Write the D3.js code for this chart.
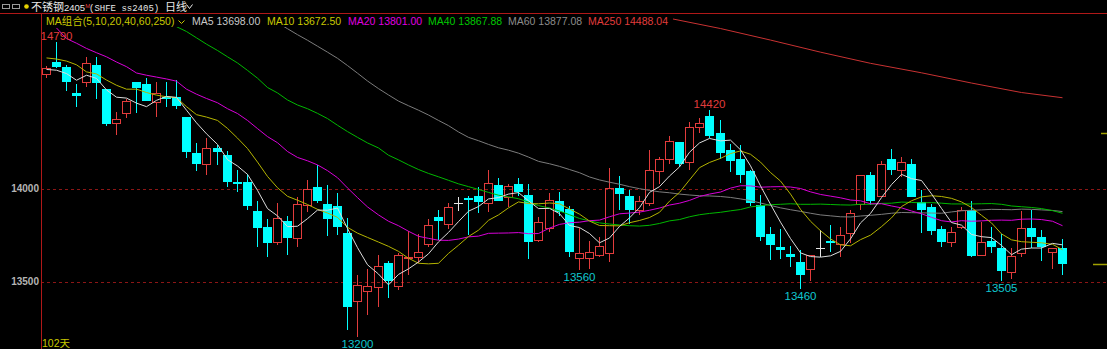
<!DOCTYPE html>
<html>
<head>
<meta charset="utf-8">
<script src="https://cdn.jsdelivr.net/npm/d3@7/dist/d3.min.js"></script>
<style>
  html, body { margin: 0; padding: 0; background: #000; overflow: hidden; }
  svg { display: block; }
</style>
</head>
<body>
<svg id="chart" width="1107" height="349"></svg>
<script>
// Daily candles for 不锈钢2405, oldest first (102 days)
const opens = [14615,14680,14655,14515,14575,14665,14535,14350,14405,14570,14560,14465,14490,14490,14385,14190,14130,14220,14180,14035,
  14035,13880,13795,13710,13825,13735,13910,14010,13915,13905,13760,13395,13450,13470,13600,13475,13625,13630,13700,13845,
  13810,13920,13950,13960,13920,14020,13955,14025,13965,13725,13790,13935,13890,13625,13625,13645,13655,14005,13960,13885,
  13920,14095,14160,14250,14145,14330,14390,14300,14205,14160,14095,13910,13755,13685,13650,13605,13565,13680,13720,13700,
  13760,13915,14070,13960,14160,14100,14130,13925,13900,13780,13715,13795,13885,13640,13720,13680,13550,13655,13785,13740,
  13660,13680];
const highs = [14660,14790,14665,14560,14705,14705,14535,14410,14480,14570,14595,14570,14570,14585,14385,14245,14270,14235,14200,14100,
  14080,13935,13835,13920,13850,13955,14045,14125,14020,13975,13840,13535,13565,13640,13610,13655,13770,13755,13835,13885,
  13920,13955,13960,14010,14100,14055,14025,14055,14025,13845,13975,13980,13905,13790,13720,13740,14110,14065,13990,13960,
  14205,14170,14280,14250,14355,14380,14420,14370,14240,14235,14100,13965,13795,13780,13690,13670,13640,13775,13805,13795,
  13885,14070,14090,14150,14210,14170,14160,13990,13915,13800,13795,13900,13935,13820,13795,13755,13680,13880,13885,13775,
  13680,13730];
const lows = [14595,14650,14525,14440,14545,14480,14335,14285,14380,14405,14470,14385,14440,14430,14165,14095,14070,14125,14010,13980,
  13885,13685,13630,13695,13640,13685,13875,13920,13745,13750,13240,13200,13320,13365,13410,13455,13535,13600,13685,13725,
  13780,13880,13750,13870,13875,13935,13900,13960,13620,13715,13765,13850,13630,13560,13565,13630,13605,13885,13810,13860,
  13905,14025,14130,14115,14100,14300,14270,14160,14090,14030,13905,13720,13615,13620,13580,13460,13505,13630,13660,13630,
  13705,13885,13910,13955,14075,14060,13955,13760,13750,13685,13685,13780,13630,13640,13655,13505,13515,13630,13680,13610,
  13565,13535];
const closes = [14650,14655,14570,14495,14675,14565,14345,14375,14470,14540,14470,14515,14480,14445,14195,14130,14220,14195,14035,14025,
  13905,13790,13705,13840,13735,13915,13995,13935,13835,13795,13365,13480,13475,13585,13505,13645,13630,13660,13805,13825,
  13900,13920,13940,13930,14030,13935,14015,13980,13710,13820,13940,13875,13660,13655,13660,13690,14005,13970,13885,13935,
  14100,14160,14255,14130,14330,14350,14280,14190,14150,14070,13920,13740,13695,13670,13630,13535,13640,13680,13705,13750,
  13870,14070,13935,14130,14100,14145,13955,13885,13770,13710,13765,13885,13635,13710,13685,13555,13635,13785,13740,13685,
  13680,13595];

// Moving averages as drawn (null where the line is hidden under the legend)
const ma5 = [14640,14636,14618,14582,14609,14592,14530,14491,14486,14459,14440,14474,14495,14490,14421,14353,14294,14237,14155,14121,
  14076,13990,13892,13853,13795,13797,13838,13884,13883,13895,13785,13682,13590,13540,13482,13538,13568,13605,13649,13713,
  13764,13822,13878,13903,13944,13951,13970,13978,13934,13892,13893,13865,13801,13790,13758,13708,13734,13796,13842,13897,
  13979,14010,14067,14116,14195,14245,14269,14256,14260,14208,14122,14014,13915,13819,13731,13654,13634,13631,13638,13662,
  13729,13815,13866,13951,14021,14076,14053,14043,13971,13893,13817,13803,13753,13741,13736,13694,13644,13674,13680,13680,
  13705,13697];
const ma10 = [14702,14696,14685,14665,14627,14616,14583,14555,14534,14534,14516,14502,14493,14488,14440,14397,14384,14366,14323,14271,
  14215,14142,14065,14004,13958,13937,13914,13888,13868,13845,13791,13760,13737,13712,13689,13662,13625,13598,13595,13598,
  13651,13695,13742,13776,13829,13858,13896,13928,13919,13918,13922,13918,13890,13862,13825,13801,13800,13799,13816,13828,
  13844,13872,13932,13979,14046,14112,14140,14162,14188,14202,14184,14142,14086,14040,13970,13888,13824,13773,13729,13697,
  13692,13725,13749,13795,13842,13903,13934,13955,13961,13957,13947,13928,13898,13856,13815,13756,13724,13714,13711,13708,
  13700,13671];
const ma20 = [null,14863,14806,14781,14753,14730,14708,14680,14655,14621,14609,14599,14589,14577,14534,14507,14484,14461,14429,14403,
  14366,14322,14279,14246,14199,14167,14149,14127,14096,14058,14003,13951,13901,13858,13824,13800,13770,13743,13732,13722,
  13721,13728,13740,13744,13759,13760,13761,13763,13757,13758,13787,13807,13816,13819,13827,13830,13848,13864,13868,13873,
  13883,13895,13911,13921,13936,13957,13970,13981,14002,14015,14014,14007,14009,14010,14008,14000,13982,13968,13959,13950,
  13938,13934,13918,13918,13906,13896,13879,13864,13845,13827,13820,13827,13824,13826,13829,13830,13829,13835,13836,13833,
  13824,13800];
const ma40 = [null,null,null,null,null,null,null,null,null,null,null,null,null,14870,14844,14810,14776,14742,14708,14675,
  14635,14593,14543,14514,14476,14449,14429,14404,14376,14340,14306,14275,14245,14218,14179,14154,14127,14102,14081,14063,
  14044,14025,14010,13995,13979,13964,13955,13945,13927,13908,13895,13879,13859,13839,13826,13815,13809,13804,13800,13798,
  13802,13812,13826,13833,13848,13859,13866,13872,13880,13887,13901,13907,13913,13915,13918,13915,13915,13916,13914,13912,
  13911,13915,13915,13920,13921,13927,13925,13923,13924,13921,13917,13917,13917,13918,13919,13915,13906,13902,13898,13892,
  13881,13867];
const ma60 = [null,null,null,null,null,null,null,null,null,null,null,null,null,null,null,null,null,null,null,null,
  null,null,null,14891,14859,14827,14797,14765,14733,14700,14661,14620,14578,14537,14503,14470,14445,14421,14395,14366,
  14338,14304,14275,14257,14237,14219,14206,14190,14169,14146,14133,14119,14102,14085,14062,14046,14034,14023,14010,13999,
  13990,13982,13977,13970,13965,13961,13960,13957,13952,13944,13935,13922,13909,13896,13886,13877,13867,13858,13853,13848,
  13847,13852,13856,13861,13867,13871,13870,13869,13868,13867,13874,13880,13883,13885,13888,13887,13886,13889,13888,13885,
  13882,13876];
const ma250Day = [63, 68, 73, 78, 83, 88, 93, 98, 102];
const ma250 = [14915, 14860, 14798, 14733, 14673, 14622, 14567, 14516, 14488];

const maNames = ['MA5', 'MA10', 'MA20', 'MA40', 'MA60', 'MA250'];
const maLast = [13698.00, 13672.50, 13801.00, 13867.88, 13877.08, 14488.04];

const yTicks = [14000, 13500];
const highMarks = [2, 67];         // days whose high gets a label
const lowMarks = [32, 54, 76, 96]; // days whose low gets a label
const sideLevels = [14300, 13595];

// ---- layout ----
const W = 1107, H = 349;
const plotLeft = 41, plotTop = 13;
const maColors = ['#dcdcdc', '#b4b400', '#d800d8', '#00b800', '#7c7c7c', '#c83232'];
const maTextColors = ['#c8c8c8', '#c8c800', '#e000e0', '#00c800', '#8c8c8c', '#e03c3c'];
const legendX = [192, 267, 348, 428, 508, 588];
const upColor = '#e23c3c', downColor = '#00ffff', flatColor = '#e6e6e6';
const font = '"Liberation Sans", "Noto Sans CJK SC", sans-serif';

const svg = d3.select('#chart').style('font-family', font);
svg.append('rect').attr('width', W).attr('height', H).attr('fill', '#000');

const days = d3.range(1, closes.length + 1);
const x = d3.scaleBand().domain(days).range([plotLeft, plotLeft + days.length * 10.06]);
const cx = d => Math.floor(x(d) + x.bandwidth() / 2);
const y = d3.scaleLinear().domain([13500, 14000]).range([281.5, 188.5]);

// grid + y labels
const yAxis = d3.axisLeft(y)
  .tickValues(yTicks)
  .tickSizeInner(-(W - plotLeft))
  .tickSizeOuter(0)
  .tickPadding(2)
  .tickFormat(d3.format('d'));
const gy = svg.append('g').attr('transform', `translate(${plotLeft},0)`).call(yAxis);
gy.select('.domain').remove();
gy.selectAll('.tick line')
  .attr('stroke', '#8c1616')
  .attr('stroke-dasharray', '3,3')
  .attr('shape-rendering', 'crispEdges');
gy.selectAll('.tick text')
  .attr('fill', '#b4b4b4')
  .style('font-size', '10px')
  .style('font-weight', 'bold')
  .style('font-family', font);

// candles
const candles = svg.append('g').attr('shape-rendering', 'crispEdges');
days.forEach((d, k) => {
  const o = opens[k], c = closes[k], h = highs[k], l = lows[k];
  const xc = cx(d);
  const yTop = Math.round(y(Math.max(o, c)));
  const yBot = Math.round(y(Math.min(o, c)));
  const yH = Math.round(y(h)), yL = Math.round(y(l));
  const g = candles.append('g');
  if (c > o) {
    g.append('line').attr('x1', xc + 0.5).attr('x2', xc + 0.5).attr('y1', yH).attr('y2', yTop).attr('stroke', upColor);
    g.append('line').attr('x1', xc + 0.5).attr('x2', xc + 0.5).attr('y1', yBot + 1).attr('y2', yL).attr('stroke', upColor);
    g.append('rect')
      .attr('x', xc - 3.5).attr('y', yTop + 0.5)
      .attr('width', 8).attr('height', Math.max(1, yBot - yTop))
      .attr('fill', 'none').attr('stroke', upColor);
  } else if (c < o) {
    g.append('line').attr('x1', xc + 0.5).attr('x2', xc + 0.5).attr('y1', yH).attr('y2', yL).attr('stroke', downColor);
    g.append('rect')
      .attr('x', xc - 4).attr('y', yTop)
      .attr('width', 9).attr('height', Math.max(1, yBot - yTop))
      .attr('fill', downColor);
  } else {
    g.append('line').attr('x1', xc + 0.5).attr('x2', xc + 0.5).attr('y1', yH).attr('y2', yL).attr('stroke', flatColor);
    g.append('line').attr('x1', xc - 4).attr('x2', xc + 5).attr('y1', yTop + 0.5).attr('y2', yTop + 0.5).attr('stroke', flatColor);
  }
});

// moving average lines, clipped to the plot
svg.append('clipPath').attr('id', 'plotClip')
  .append('rect').attr('x', plotLeft + 1).attr('y', plotTop + 1).attr('width', W - plotLeft - 1).attr('height', H - plotTop - 1);
const lines = svg.append('g').attr('clip-path', 'url(#plotClip)');
const lineGen = d3.line()
  .defined(p => p[1] != null)
  .x(p => cx(p[0]) + 0.5)
  .y(p => y(p[1]));
const maSeries = [ma5, ma10, ma20, ma40, ma60].map(arr => arr.map((v, k) => [days[k], v]));
maSeries.push(ma250Day.map((d, k) => [d, ma250[k]]));
// long averages first so short ones sit on top
[5, 4, 3, 2, 1, 0].forEach(k => {
  lines.append('path')
    .datum(maSeries[k])
    .attr('d', lineGen)
    .attr('fill', 'none')
    .attr('stroke', maColors[k])
    .attr('stroke-width', 1);
});

// high / low labels
const marks = svg.append('g').style('font-size', '11.5px').attr('text-anchor', 'middle');
highMarks.forEach(d => {
  marks.append('text').attr('x', cx(d) + 0.5).attr('y', y(highs[d - 1]) - 2)
    .attr('fill', '#e03c3c').text(highs[d - 1]);
});
lowMarks.forEach(d => {
  marks.append('text').attr('x', cx(d) + 0.5).attr('y', y(lows[d - 1]) + 11)
    .attr('fill', '#10c8d0').text(lows[d - 1]);
});

// small level ticks at the right edge
const sideLen = [6, 14];
sideLevels.forEach((v, k) => {
  svg.append('line')
    .attr('x1', W - sideLen[k]).attr('x2', W)
    .attr('y1', Math.round(y(v)) + 0.5).attr('y2', Math.round(y(v)) + 0.5)
    .attr('stroke', '#a0a000').attr('stroke-width', 1.5);
});

// legend row
svg.append('rect').attr('x', plotLeft + 1).attr('y', plotTop + 1).attr('width', 631).attr('height', 13).attr('fill', '#000');
const legend = svg.append('g').style('font-size', '10.5px');
legend.append('text').attr('x', 46).attr('y', 25).attr('fill', '#c8c800').text('MA组合(5,10,20,40,60,250)');
legend.append('path').attr('d', 'M178.5,20.5 L181.5,23.5 L184.5,20.5').attr('fill', 'none').attr('stroke', '#c8c800');
maNames.forEach((n, k) => {
  legend.append('text').attr('x', legendX[k]).attr('y', 25)
    .attr('fill', maTextColors[k])
    .text(`${n} ${maLast[k].toFixed(2)}`);
});

// header bar
svg.append('line').attr('x1', 0).attr('x2', W).attr('y1', plotTop + 0.5).attr('y2', plotTop + 0.5)
  .attr('stroke', '#b01818').attr('shape-rendering', 'crispEdges');
svg.append('line').attr('x1', plotLeft + 0.5).attr('x2', plotLeft + 0.5).attr('y1', plotTop).attr('y2', H)
  .attr('stroke', '#b01818').attr('shape-rendering', 'crispEdges');
const head = svg.append('g');
head.append('rect').attr('x', 2.5).attr('y', 4.5).attr('width', 7).attr('height', 4).attr('fill', 'none').attr('stroke', '#9a9a9a');
head.append('rect').attr('x', 12.5).attr('y', 4.5).attr('width', 7).attr('height', 4).attr('fill', 'none').attr('stroke', '#9a9a9a');
head.append('circle').attr('cx', 26.5).attr('cy', 6.5).attr('r', 2.3).attr('fill', '#e6d200');
const ht = head.append('text').attr('y', 11).style('font-size', '11px').attr('fill', '#e8e8e8');
ht.append('tspan').attr('x', 31).text('不锈钢');
ht.append('tspan').style('font-size', '9.5px').text('2405');
ht.append('tspan').attr('fill', '#e03c3c').attr('dy', -3).style('font-size', '6px').text('M');
ht.append('tspan').attr('x', 89).attr('dy', 3).style('font-size', '9px')
  .style('font-family', '"Liberation Mono", monospace').text('(SHFE ss2405)');
ht.append('tspan').attr('x', 165).text('日线');
head.append('path').attr('d', 'M186.5,4.5 L189.5,8.5 L192.5,4.5').attr('fill', 'none').attr('stroke', '#e8e8e8');

// day count
svg.append('text').attr('x', 42).attr('y', 347).attr('fill', '#c8c800').style('font-size', '10.5px')
  .text(days.length + '天');
</script>
</body>
</html>
